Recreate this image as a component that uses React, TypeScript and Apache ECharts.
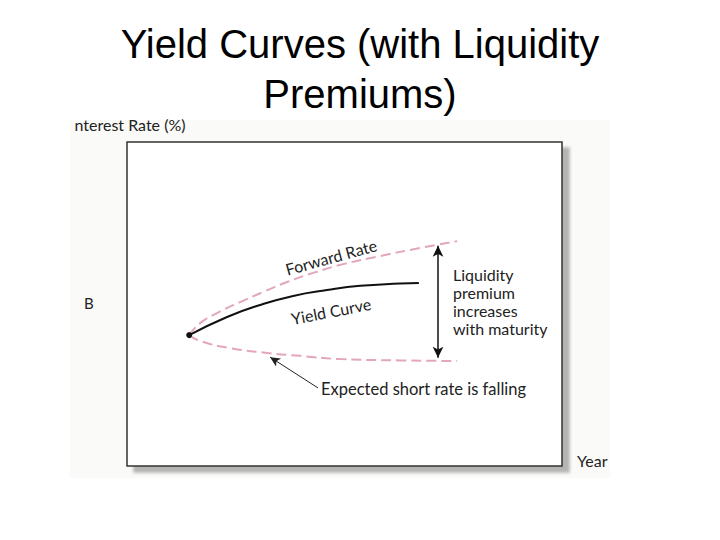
import React, { useEffect, useRef } from "react";
import * as echarts from "echarts";

// Data in abstract chart units (x: maturity, y: rate), both axes 0–100
const forwardRate: [number, number][] = [
  [14.3, 40.4], [16.8, 44.1], [20.7, 47.2], [26.0, 50.6], [31.3, 53.7],
  [36.8, 56.8], [42.8, 59.6], [49.7, 62.3], [58.2, 64.8], [67.4, 67.3],
  [75.9, 69.4],
];
const yieldCurve: [number, number][] = [
  [14.3, 40.4], [23.0, 46.0], [30.6, 49.7], [38.2, 52.5], [46.0, 54.3],
  [53.6, 55.6], [62.8, 56.3], [67.1, 56.5],
];
const expectedShort: [number, number][] = [
  [14.3, 40.4], [16.8, 38.6], [23.7, 36.4], [32.2, 34.9], [39.8, 34.0],
  [49.0, 33.0], [62.8, 32.6], [75.9, 32.4],
];
const premiumArrow: [number, number][] = [[71.5, 68.0], [71.5, 33.4]];
const fallingArrow: [number, number][] = [[43.9, 24.1], [32.9, 33.6]];

const TITLE_LINES = ["Yield Curves (with Liquidity", "Premiums)"];
const Y_NAME = "nterest Rate (%)";
const X_NAME = "Year";
const Y_MARK = "B";

const FONT = "Lato, 'Open Sans', sans-serif";
const PINK = "#e3a6ba";

export default function App() {
  const ref = useRef<HTMLDivElement>(null);
  useEffect(() => {
    if (!ref.current) return;
    const chart = echarts.init(ref.current, undefined, { renderer: "svg" });
    const titleStyle = {
      fontFamily: "'Liberation Sans', Arial, sans-serif",
      fontWeight: "normal",
      fontSize: 40,
      color: "#000",
    };
    chart.setOption({
      animation: false,
      backgroundColor: "#ffffff",
      title: TITLE_LINES.map((t, i) => ({
        text: t,
        left: "center",
        top: 19 + i * 50,
        textStyle: titleStyle,
      })),
      grid: {
        left: 127,
        right: 158,
        top: 142,
        bottom: 74,
        show: true,
        backgroundColor: "#ffffff",
        borderColor: "#333",
        borderWidth: 1.5,
        shadowColor: "rgba(0,0,0,0.28)",
        shadowBlur: 3,
        shadowOffsetX: 7,
        shadowOffsetY: 6,
      },
      graphic: [
        {
          type: "rect",
          z: -10,
          silent: true,
          shape: { x: 70, y: 120, width: 540, height: 358 },
          style: { fill: "#fafaf8" },
        },
        {
          type: "text",
          x: 84,
          y: 303,
          style: { text: Y_MARK, font: `15px ${FONT}`, fill: "#222", textVerticalAlign: "middle" },
        },
        {
          type: "text",
          x: 331,
          y: 257,
          rotation: 0.27,
          style: {
            text: "Forward Rate",
            font: `16px ${FONT}`,
            fill: "#222",
            textAlign: "center",
            textVerticalAlign: "middle",
          },
        },
        {
          type: "text",
          x: 331,
          y: 311,
          rotation: 0.19,
          style: {
            text: "Yield Curve",
            font: `16px ${FONT}`,
            fill: "#222",
            textAlign: "center",
            textVerticalAlign: "middle",
          },
        },
        {
          type: "text",
          x: 453,
          y: 265,
          style: {
            text: "Liquidity\npremium\nincreases\nwith maturity",
            font: `16px ${FONT}`,
            lineHeight: 18,
            fill: "#222",
          },
        },
        {
          type: "text",
          x: 321,
          y: 389,
          style: {
            text: "Expected short rate is falling",
            font: `16.5px ${FONT}`,
            fill: "#222",
            textVerticalAlign: "middle",
          },
        },
      ],
      xAxis: {
        type: "value",
        min: 0,
        max: 100,
        name: X_NAME,
        nameLocation: "end",
        nameGap: 15,
        nameTextStyle: { fontFamily: FONT, fontSize: 16, color: "#222", verticalAlign: "bottom", padding: [0, 0, -2, 0] },
        axisLine: { show: false },
        axisTick: { show: false },
        axisLabel: { show: false },
        splitLine: { show: false },
      },
      yAxis: {
        type: "value",
        min: 0,
        max: 100,
        name: Y_NAME,
        nameLocation: "end",
        nameGap: 10,
        nameTextStyle: { fontFamily: FONT, fontSize: 16, color: "#222", padding: [0, 0, 0, 6] },
        axisLine: { show: false },
        axisTick: { show: false },
        axisLabel: { show: false },
        splitLine: { show: false },
      },
      series: [
        {
          name: "Forward Rate",
          type: "line",
          smooth: true,
          symbol: "none",
          data: forwardRate,
          lineStyle: { color: PINK, width: 2, type: [10, 5] },
          z: 2,
        },
        {
          name: "Expected short rate",
          type: "line",
          smooth: true,
          symbol: "none",
          data: expectedShort,
          lineStyle: { color: PINK, width: 2, type: [10, 5] },
          z: 2,
        },
        {
          name: "Yield Curve",
          type: "line",
          smooth: true,
          symbol: "none",
          showSymbol: true,
          data: yieldCurve.map((p, i) =>
            i === 0
              ? { value: p, symbol: "circle", symbolSize: 6, itemStyle: { color: "#111" } }
              : { value: p }
          ),
          lineStyle: { color: "#111", width: 2 },
          z: 3,
          markLine: {
            silent: true,
            animation: false,
            label: { show: false },
            symbol: ["arrow", "arrow"],
            symbolSize: [8, 11],
            lineStyle: { color: "#111", width: 1.5, type: "solid" },
            data: [
              [{ coord: premiumArrow[0] }, { coord: premiumArrow[1] }],
              [
                { coord: fallingArrow[0], symbol: "none", lineStyle: { width: 1, curveness: -0.12, color: "#222" } },
                { coord: fallingArrow[1], symbol: "arrow", symbolSize: [7, 10] },
              ],
            ],
          },
        },
      ],
    });
    return () => chart.dispose();
  }, []);
  return (
    <div
      ref={ref}
      style={{ position: "absolute", left: 0, top: 0, width: 720, height: 540 }}
    />
  );
}
